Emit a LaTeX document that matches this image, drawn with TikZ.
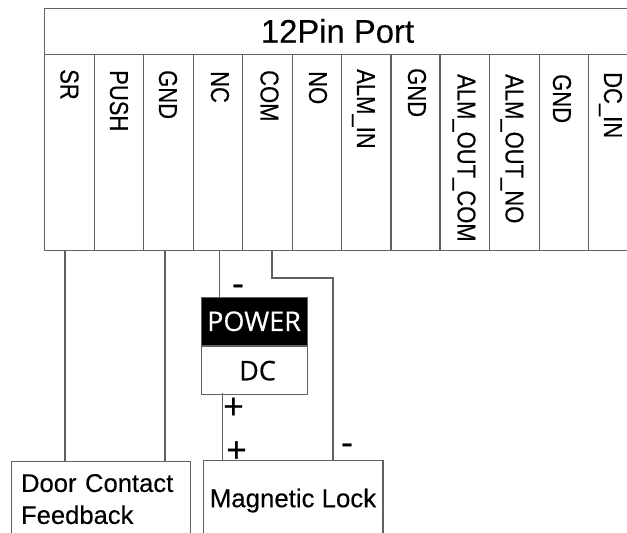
\documentclass[tikz,border=0pt]{standalone}
\usepackage{fontspec}
\setmainfont[FakeBold=.25]{Liberation Sans}
\newfontfamily\powerfont[FakeBold=.5]{Open Sans}
\newfontfamily\signfont[FakeBold=.5]{Open Sans}
\usetikzlibrary{positioning}
\definecolor{wirecol}{gray}{.38}
\newcommand{\tallcaps}[1]{\scalebox{1}[1.18]{#1}}
\tikzset{
    box/.style={draw=wirecol, line width=1.1pt, rectangle, inner sep=0pt, anchor=north west},
    wire/.style={draw=wirecol, line width=1.1pt},
    pinlabel/.style={rotate=-90, anchor=west, inner sep=0pt, text height=19pt, text depth=0pt, font=\fontsize{22}{24}\selectfont},
    powerbox/.style={box, minimum width=106pt, minimum height=48.5pt, font=\powerfont\fontsize{27}{30}\selectfont},
    sign/.style={inner sep=0pt, font=\signfont\fontsize{36}{38}\selectfont}
}
\begin{document}
\begin{tikzpicture}[x=1pt, y=-1pt]
    \useasboundingbox (0,0) rectangle (627,533);
    \clip (0,0) rectangle (627,533);

    \node[box, minimum width=600pt, minimum height=45.5pt] (port) at (44,8) {};
    \node[font=\fontsize{32.8}{36}\selectfont, inner sep=0pt] (title) at (337.5,31) {12Pin Port};

\foreach \i/\x in {1/44,2/93.6,3/143.2,4/192.5,5/242.3,6/291.6,7/341,8/390,9/439.4,10/489,11/538.5,12/587.5}
{
    \node[box, minimum width=49.5pt, minimum height=196.5pt] (pin\i) at (\x,53.5) {};
}

\foreach \i/\x/\y/\t in {1/70/69/SR,2/119.5/70/PUSH,3/168.5/70/GND,4/220.5/71/NC,5/270/70/COM,6/318.5/71/NO,7/366.5/69/ALM\_IN,8/417.5/68/GND,9/467/74/ALM\_OUT\_COM,10/515/74/ALM\_OUT\_NO,11/562.5/74/GND,12/613.5/72/DC\_IN}
{
    \node[pinlabel] (label\i) at (\x,\y) {\tallcaps{\t}};
}

    \node[powerbox, fill=black, text=white] (power) at (200.5,296.5) {POWER};
    \node[powerbox, minimum height=48pt, below=0pt of power.south west, anchor=north west] (dc) {\hspace*{7pt}DC};

    \node[box, text width=159pt, inner xsep=10pt, inner ysep=13pt, align=left, font=\fontsize{25.6}{32}\selectfont] (door) at (10.5,460.5) {Door Contact\\Feedback};
    \node[box, inner xsep=6.8pt, minimum height=81pt, font=\fontsize{25.8}{28}\selectfont] (lock) at (202.5,459.5) {Magnetic Lock};

    \coordinate (srpin) at (65,250);
    \coordinate (gndpin) at (165,250);
    \coordinate (ncpin) at (219.5,250);
    \coordinate (compin) at (272,250);
    \coordinate (combend) at (333,278);
    \coordinate (dcplus) at (222.5,393);

    \draw[wire] (srpin) -- (srpin |- door.north);
    \draw[wire] (gndpin) -- (gndpin |- door.north);
    \draw[wire] (ncpin) -- (ncpin |- power.north);
    \draw[wire] (compin) -- (compin |- combend) -- (combend) -- (combend |- lock.north);
    \draw[wire] (dcplus) -- (dcplus |- lock.north);

    \node[sign] (minusa) at (238,290) {-};
    \node[sign] (plusa) at (233.5,408.5) {+};
    \node[sign] (plusb) at (236.5,452) {+};
    \node[sign] (minusb) at (347,449) {-};
\end{tikzpicture}
\end{document}
